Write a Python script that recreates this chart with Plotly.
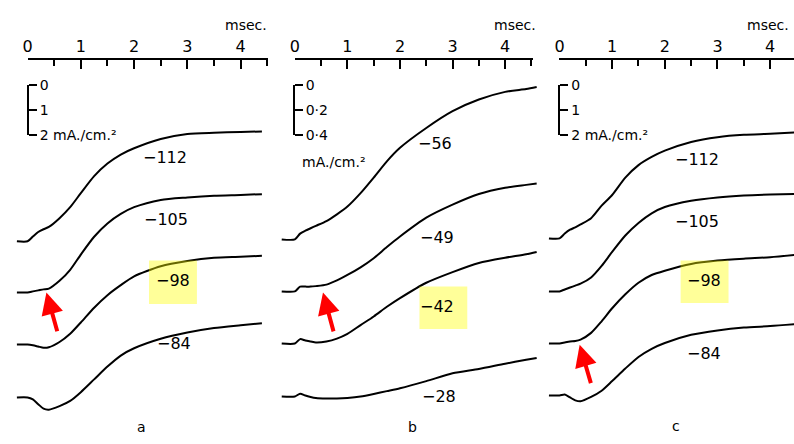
import plotly.graph_objects as go

# ---------------- data ----------------
# time (msec)
t_a = [-0.2, 0, 0.1, 0.2, 0.3, 0.4, 0.6, 0.8, 1.0, 1.25, 1.5, 1.75, 2.0, 2.5, 3.0, 3.5, 4.0, 4.4]
t_b = [-0.25, 0, 0.1, 0.2, 0.3, 0.4, 0.6, 0.8, 1.0, 1.25, 1.5, 1.75, 2.0, 2.5, 3.0, 3.5, 4.0, 4.4, 4.6]
t_c = [-0.2, 0, 0.1, 0.2, 0.3, 0.4, 0.6, 0.8, 1.0, 1.25, 1.5, 1.75, 2.0, 2.5, 3.0, 3.5, 4.0, 4.5]

# panel a traces (mA/cm2 on the scale-bar axis, stacked)
a_112 = [6.23, 6.23, 6.04, 5.86, 5.75, 5.66, 5.31, 4.87, 4.31, 3.63, 3.13, 2.77, 2.52, 2.15, 1.95, 1.90, 1.87, 1.85]
a_105 = [8.27, 8.27, 8.23, 8.19, 8.15, 8.12, 7.81, 7.37, 6.76, 6.05, 5.52, 5.14, 4.87, 4.58, 4.48, 4.41, 4.38, 4.35]
a_98 = [10.35, 10.35, 10.38, 10.43, 10.48, 10.46, 10.25, 9.92, 9.47, 8.88, 8.38, 7.98, 7.63, 7.23, 7.02, 6.89, 6.85, 6.81]
a_84 = [12.46, 12.46, 12.54, 12.73, 12.91, 12.95, 12.81, 12.60, 12.25, 11.74, 11.23, 10.79, 10.50, 10.12, 9.87, 9.69, 9.58, 9.50]

# panel b traces
b_56 = [1.231, 1.231, 1.185, 1.162, 1.142, 1.123, 1.085, 1.031, 0.969, 0.862, 0.738, 0.608, 0.500, 0.342, 0.208, 0.115, 0.054, 0.031, 0.015]
b_49 = [1.646, 1.646, 1.608, 1.608, 1.608, 1.604, 1.592, 1.558, 1.515, 1.454, 1.381, 1.292, 1.208, 1.058, 0.954, 0.869, 0.819, 0.796, 0.785]
b_42 = [2.062, 2.062, 2.027, 2.038, 2.046, 2.054, 2.046, 2.023, 1.985, 1.915, 1.846, 1.769, 1.700, 1.577, 1.492, 1.419, 1.377, 1.350, 1.331]
b_28 = [2.485, 2.485, 2.462, 2.477, 2.488, 2.496, 2.500, 2.500, 2.496, 2.485, 2.465, 2.442, 2.419, 2.362, 2.300, 2.265, 2.223, 2.192, 2.177]

# panel c traces
c_112 = [6.115, 6.115, 5.923, 5.769, 5.673, 5.558, 5.308, 4.808, 4.385, 3.692, 3.192, 2.865, 2.615, 2.269, 2.077, 1.981, 1.942, 1.885]
c_105 = [8.231, 8.231, 8.154, 8.077, 8.000, 7.923, 7.673, 7.212, 6.654, 6.000, 5.500, 5.115, 4.865, 4.615, 4.481, 4.404, 4.365, 4.346]
c_98 = [10.308, 10.308, 10.269, 10.231, 10.212, 10.154, 9.885, 9.423, 8.904, 8.346, 7.885, 7.577, 7.404, 7.135, 7.000, 6.923, 6.865, 6.769]
c_84 = [12.385, 12.385, 12.346, 12.462, 12.577, 12.615, 12.442, 12.192, 11.808, 11.308, 10.846, 10.519, 10.288, 9.962, 9.788, 9.673, 9.615, 9.538]

# labels (mV) and their anchor (time, level)
labels_a = ["−112", "−105", "−98", "−84"]
lab_a_pos = [(2.58, 2.88), (2.60, 5.38), (2.73, 7.81), (2.75, 10.31)]
labels_b = ["−56", "−49", "−42", "−28"]
lab_b_pos = [(2.66, 0.469), (2.71, 1.215), (2.71, 1.77), (2.75, 2.485)]
labels_c = ["−112", "−105", "−98", "−84"]
lab_c_pos = [(2.62, 2.96), (2.62, 5.46), (2.75, 7.81), (2.74, 10.69)]

time_ticks = [0, 1, 2, 3, 4]
scale_ac_vals = [0, 1, 2]
scale_ac_text = ["0", "1", "2 mA./cm.²"]
scale_b_vals = [0, 0.2, 0.4]
scale_b_text = ["0", "0·2", "0·4"]

FONT = "DejaVu Sans"
W, H = 794, 444

fig = go.Figure()

def add_trace(x, y, xa, ya):
    fig.add_trace(go.Scatter(x=x, y=y, xaxis=xa, yaxis=ya, mode="lines",
                             line=dict(color="black", width=2, shape="spline", smoothing=0.7),
                             hoverinfo="skip", showlegend=False))

for y in (a_112, a_105, a_98, a_84):
    add_trace(t_a, y, "x", "y")
for y in (b_56, b_49, b_42, b_28):
    add_trace(t_b, y, "x2", "y2")
for y in (c_112, c_105, c_98, c_84):
    add_trace(t_c, y, "x3", "y")

# dummy traces to materialise the time axes / scale bars
for xa, ya in (("x4", "y3"), ("x5", "y4"), ("x6", "y5")):
    fig.add_trace(go.Scatter(x=[1], y=[1], xaxis=xa, yaxis=ya, mode="markers",
                             marker=dict(opacity=0), hoverinfo="skip", showlegend=False))

hidden = dict(visible=False, showgrid=False, zeroline=False)

def xrange_for(x0px, s):
    return [-x0px / s, (W - x0px) / s]

def yrange_for(y0px, s):
    return [(H - y0px) / s, -y0px / s]

axis_y_px = 53
bar_top, bar_bot = 80, 132

def time_axis(x0px, endpx, s):
    end = (endpx - x0px) / s
    return dict(domain=[x0px / W, min(endpx / W, 1.0)], range=[0, end],
                anchor="free", position=1 - axis_y_px / H, side="top",
                showline=True, linecolor="black", linewidth=2,
                tickmode="array", tickvals=time_ticks, ticks="inside", ticklen=9, tickwidth=2,
                tickcolor="black",
                minor=dict(dtick=0.5, tick0=0, ticks="inside", ticklen=6, tickwidth=2, tickcolor="black"),
                tickfont=dict(family=FONT, size=16, color="black"),
                showgrid=False, zeroline=False)

def scale_axis(xpx, rng, vals, text):
    return dict(domain=[1 - bar_bot / H, 1 - bar_top / H], range=rng, anchor="free",
                position=xpx / W, side="right", showline=True, linecolor="black", linewidth=2,
                tickmode="array", tickvals=vals, ticktext=text, ticks="outside", ticklen=8,
                tickwidth=2, tickcolor="black",
                tickfont=dict(family=FONT, size=14, color="black"),
                showgrid=False, zeroline=False)

fig.update_layout(
    width=W, height=H, margin=dict(l=0, r=0, t=0, b=0),
    paper_bgcolor="white", plot_bgcolor="rgba(0,0,0,0)",
    xaxis=dict(domain=[0, 1], range=xrange_for(22.7, 53.6), anchor="y", **hidden),
    xaxis2=dict(domain=[0, 1], range=xrange_for(291.7, 52.9), anchor="y2", **hidden),
    xaxis3=dict(domain=[0, 1], range=xrange_for(558, 53.0), anchor="y", **hidden),
    yaxis=dict(domain=[0, 1], range=yrange_for(80, 26.0), anchor="x", **hidden),
    yaxis2=dict(domain=[0, 1], range=yrange_for(80, 130.0), anchor="x2", **hidden),
    xaxis4=time_axis(22.7, 265, 53.6),
    xaxis5=time_axis(291.7, 531.7, 52.9),
    xaxis6=time_axis(558, 794, 53.0),
    yaxis3=scale_axis(23, [2, 0], scale_ac_vals, scale_ac_text),
    yaxis4=scale_axis(290.7, [0.4, 0], scale_b_vals, scale_b_text),
    yaxis5=scale_axis(558, [2, 0], scale_ac_vals, scale_ac_text),
)

ann = []
def label(text, x, y, xr, yr, size=16, **kw):
    d = dict(text=text, x=x, y=y, xref=xr, yref=yr, showarrow=False,
             xanchor="center", yanchor="middle",
             font=dict(family=FONT, size=size, color="black"))
    d.update(kw)
    ann.append(d)

for t, (x, y) in zip(labels_a, lab_a_pos):
    label(t, x, y, "x", "y")
for t, (x, y) in zip(labels_b, lab_b_pos):
    label(t, x, y, "x2", "y2")
for t, (x, y) in zip(labels_c, lab_c_pos):
    label(t, x, y, "x3", "y")

label("mA./cm.²", 0.74, 0.615, "x2", "y2", size=14)
label("msec.", 4.11, 1 - 18 / H, "x4", "paper", size=14)
label("msec.", 4.18, 1 - 18 / H, "x5", "paper", size=14)
label("msec.", 3.53, 1 - 18 / H, "x6", "paper", size=14, xanchor="left")
label("a", 2.13, 13.65, "x", "y", size=14)
label("b", 2.24, 2.73, "x2", "y2", size=14)
label("c", 2.21, 13.6, "x3", "y", size=14)

# red arrows
for (tx, ty, sx, sy, xr, yr) in ((0.354, 8.27, 0.565, 9.88, "x", "y"),
                                 (0.535, 1.654, 0.743, 1.977, "x2", "y2"),
                                 (0.383, 10.36, 0.604, 11.95, "x3", "y")):
    ann.append(dict(x=tx, y=ty, ax=sx, ay=sy, xref=xr, yref=yr, axref=xr, ayref=yr,
                    text="", showarrow=True, arrowhead=2, arrowsize=1.1, arrowwidth=4,
                    arrowcolor="#ff0000", standoff=0))

fig.update_layout(annotations=ann)

# yellow highlight boxes
for (x0, x1, y0, y1, xr, yr) in ((2.28, 3.18, 7.0, 8.73, "x", "y"),
                                 (2.37, 3.28, 1.608, 1.946, "x2", "y2"),
                                 (2.30, 3.21, 7.0, 8.69, "x3", "y")):
    fig.add_shape(type="rect", x0=x0, x1=x1, y0=y0, y1=y1, xref=xr, yref=yr,
                  fillcolor="rgba(255,255,0,0.4)", line=dict(width=0), layer="above")

fig.write_html("out.html")
